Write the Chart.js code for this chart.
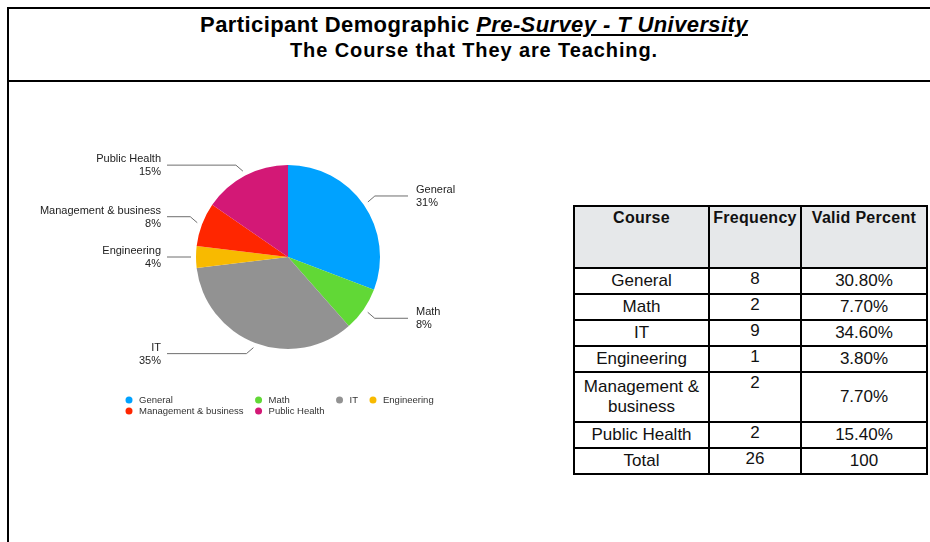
<!DOCTYPE html>
<html lang="en">
<head>
<meta charset="UTF-8">
<title>Participant Demographic</title>
<script src="https://cdn.jsdelivr.net/npm/chart.js"></script>
<style>
    body { margin: 0; width: 930px; height: 542px; overflow: hidden; background: #fff; font-family: "Liberation Sans", Arial, sans-serif; }
    .frame { position: absolute; left: 7px; top: 7px; width: 960px; height: 600px; border-left: 2px solid #000; border-top: 2px solid #000; }
    .head { height: 71px; border-bottom: 2px solid #000; text-align: center; font-weight: bold; color: #000; padding-right: 30px; }
    .head .t1 { font-size: 22px; letter-spacing: 0.4px; padding-top: 3px; line-height: 25px; }
    .head .t1 span { font-style: italic; text-decoration: underline; }
    .head .t2 { font-size: 20px; letter-spacing: 0.9px; line-height: 26px; }
    #chartBox { position: absolute; left: 10px; top: 140px; width: 470px; height: 280px; }
    table { position: absolute; left: 573px; top: 205px; border-collapse: collapse; font-size: 17px; color: #111; border: 2px solid #000; }
    td, th { border: 2px solid #000; text-align: center; padding: 0 3px; }
    th { background: #e6e8ea; vertical-align: top; height: 58px; padding-top: 2px; font-size: 16px; letter-spacing: 0.3px; }
    td { height: 24px; line-height: 20px; }
    td.freq { vertical-align: top; }
</style>
</head>
<body>
    <div class="frame">
        <div class="head">
            <div class="t1">Participant Demographic <span>Pre-Survey - T University</span></div>
            <div class="t2">The Course that They are Teaching.</div>
        </div>
    </div>

    <div id="chartBox"><canvas id="courseChart" width="470" height="280"></canvas></div>

    <table id="courseTable"></table>

    <script>
        // course categories, counts and valid percent per course
        const courses = ['General', 'Math', 'IT', 'Engineering', 'Management & business', 'Public Health'];
        const tableNames = ['General', 'Math', 'IT', 'Engineering', 'Management &<br>business', 'Public Health'];
        const frequency = [8, 2, 9, 1, 2, 2];
        const validPercent = [30.8, 7.7, 34.6, 3.8, 7.7, 15.4];
        const totalFrequency = 26;
        const totalPercent = 100;
        const sliceColors = ['#00a2ff', '#61d836', '#929292', '#f8ba00', '#ff2600', '#d31876'];

        // build the frequency table
        let rows = '<tr><th style="width:127px">Course</th><th style="width:84px">Frequency</th><th style="width:118px">Valid Percent</th></tr>';
        courses.forEach(function(c, i) {
            const tall = i === 4 ? ' style="height:50px"' : '';
            rows += '<tr' + tall + '><td>' + tableNames[i] + '</td><td class="freq">' + frequency[i] +
                '</td><td>' + validPercent[i].toFixed(2) + '%</td></tr>';
        });
        rows += '<tr><td>Total</td><td class="freq">' + totalFrequency + '</td><td>' + totalPercent + '</td></tr>';
        document.getElementById('courseTable').innerHTML = rows;

        // leader-line labels and the column legend
        const calloutPlugin = {
            id: 'callouts',
            afterDatasetsDraw(chart) {
                const ctx = chart.ctx;
                const meta = chart.getDatasetMeta(0);
                ctx.save();
                ctx.font = '11px "Liberation Sans", Arial, sans-serif';
                ctx.textBaseline = 'middle';
                meta.data.forEach(function(arc, i) {
                    const mid = (arc.startAngle + arc.endAngle) / 2;
                    const r = arc.outerRadius + 5;
                    const sx = arc.x + Math.cos(mid) * r;
                    const sy = arc.y + Math.sin(mid) * r;
                    const right = Math.cos(mid) > 0;
                    const dy = Math.abs(Math.sin(mid)) > 0.2 ? Math.sign(Math.sin(mid)) * 6 : 0;
                    const kx = sx + (right ? 7 : -7);
                    const ky = sy + dy;
                    const ex = right ? arc.x + 120 : arc.x - 121;
                    ctx.strokeStyle = '#6e6e6e';
                    ctx.lineWidth = 1;
                    ctx.beginPath();
                    ctx.moveTo(sx, sy);
                    ctx.lineTo(kx, ky);
                    ctx.lineTo(ex, ky);
                    ctx.stroke();
                    ctx.fillStyle = '#222';
                    ctx.textAlign = right ? 'left' : 'right';
                    const tx = right ? ex + 8 : ex - 6;
                    ctx.fillText(chart.data.labels[i], tx, ky - 6);
                    ctx.fillText(Math.round(chart.data.datasets[0].data[i]) + '%', tx, ky + 7);
                });

                // legend laid out in four columns, two rows
                ctx.font = '9.5px "Liberation Sans", Arial, sans-serif';
                ctx.textAlign = 'left';
                const cols = 4;
                const colX = [119];
                for (let c = 0; c < cols - 1; c++) {
                    let w = 0;
                    for (let i = c; i < courses.length; i += cols) {
                        w = Math.max(w, ctx.measureText(chart.data.labels[i]).width);
                    }
                    colX.push(colX[c] + 10 + w + 15);
                }
                chart.data.labels.forEach(function(label, i) {
                    const x = colX[i % cols];
                    const y = 260 + Math.floor(i / cols) * 11;
                    ctx.fillStyle = sliceColors[i];
                    ctx.beginPath();
                    ctx.arc(x, y, 3.5, 0, Math.PI * 2);
                    ctx.fill();
                    ctx.fillStyle = '#333';
                    ctx.fillText(label, x + 10, y + 0.5);
                });
                ctx.restore();
            }
        };

        const ctx = document.getElementById('courseChart').getContext('2d');
        new Chart(ctx, {
            type: 'pie',
            data: {
                labels: courses,
                datasets: [{
                    data: validPercent,
                    backgroundColor: sliceColors,
                    borderWidth: 0
                }]
            },
            options: {
                responsive: false,
                animation: false,
                layout: { padding: { left: 186, right: 100, top: 25, bottom: 71 } },
                plugins: {
                    legend: { display: false },
                    tooltip: { enabled: false }
                }
            },
            plugins: [calloutPlugin]
        });
    </script>
</body>
</html>
